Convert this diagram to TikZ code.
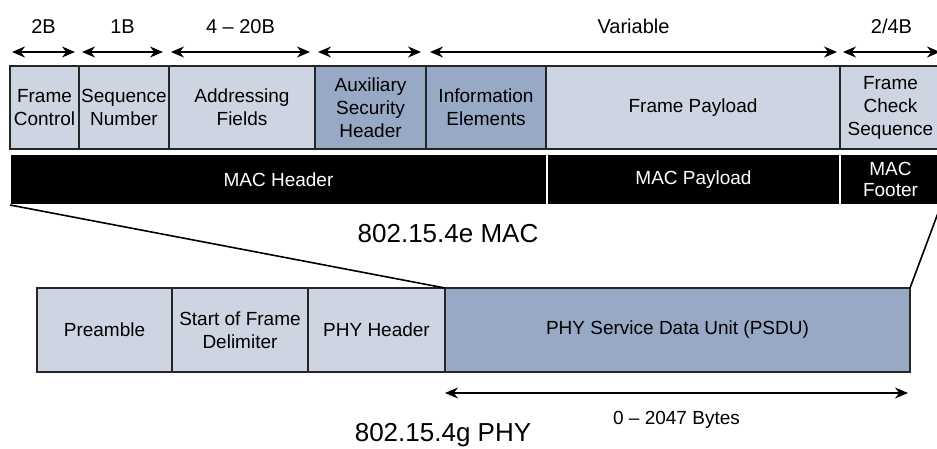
\documentclass[tikz,border=0pt]{standalone}
\usepackage{fontspec}
\setmainfont{Liberation Sans}
\usetikzlibrary{arrows.meta}
\definecolor{fieldlight}{RGB}{205,213,226}
\definecolor{fielddark}{RGB}{151,169,196}

\begin{document}
\begin{tikzpicture}[x=1pt, y=-1pt, >={Stealth[length=13pt, width=11pt]},
  field/.style={draw=black!85, line width=1.2pt, fill=fieldlight, anchor=north west,
    inner sep=0pt, outer sep=0pt, align=center, minimum height=83pt,
    font=\fontsize{19}{23}\selectfont},
  darkfield/.style={field, fill=fielddark},
  macbar/.style={draw=white, line width=1.5pt, fill=black, text=white, anchor=north west,
    inner sep=0pt, outer sep=0pt, align=center, minimum height=51pt,
    font=\fontsize{19}{21}\selectfont},
  sizelabel/.style={font=\fontsize{20}{24}\selectfont, anchor=base},
  layertitle/.style={font=\fontsize{26}{30}\selectfont, anchor=base},
  dimarrow/.style={<->, line width=1.6pt}]
  \clip (0,0) rectangle (937,448);

  % MAC frame fields
  \node[field, minimum width=69pt] (fc) at (10,66) {Frame\\Control};
  \node[field, minimum width=90pt] (sn) at (fc.north east) {Sequence\\Number};
  \node[field, minimum width=146pt] (af) at (sn.north east) {Addressing\\Fields};
  \node[darkfield, minimum width=111pt] (ash) at (af.north east) {Auxiliary\\Security\\Header};
  \node[darkfield, minimum width=120pt] (ie) at (ash.north east) {Information\\Elements};
  \node[field, minimum width=294pt] (fp) at (ie.north east) {Frame Payload};
  \node[field, minimum width=101pt] (fcs) at (fp.north east) {Frame\\Check\\Sequence};

  % header / payload / footer bar
  \node[macbar, minimum width=537pt] (mh) at (10,154) {MAC Header};
  \node[macbar, minimum width=293pt] (mp) at (mh.north east) {MAC Payload};
  \node[macbar, minimum width=101pt] (mf) at (mp.north east) {MAC\\Footer};

  % field sizes
  \draw[dimarrow] ([xshift=2pt, yshift=14pt]fc.north west) -- ([xshift=-4pt, yshift=14pt]fc.north east)
    node[sizelabel, midway, yshift=19pt] (sz1) {2B};
  \draw[dimarrow] ([xshift=3pt, yshift=14pt]sn.north west) -- ([xshift=-6pt, yshift=14pt]sn.north east)
    node[sizelabel, midway, yshift=19pt] (sz2) {1B};
  \draw[dimarrow] ([xshift=2pt, yshift=14pt]af.north west) -- ([xshift=-5pt, yshift=14pt]af.north east)
    node[sizelabel, midway, yshift=19pt] (sz3) {4 -- 20B};
  \draw[dimarrow] ([xshift=3pt, yshift=14pt]ash.north west) -- ([xshift=-5pt, yshift=14pt]ash.north east);
  \draw[dimarrow] ([xshift=4pt, yshift=14pt]ie.north west) -- ([xshift=-3pt, yshift=14pt]fp.north east)
    node[sizelabel, midway, yshift=19pt] (sz4) {Variable};
  \draw[dimarrow] ([xshift=3pt, yshift=14pt]fcs.north west) -- ([xshift=-1pt, yshift=14pt]fcs.north east)
    node[sizelabel, midway, yshift=19pt] (sz5) {2/4B};

  \node[layertitle] (mactitle) at (448,242) {802.15.4e MAC};

  % PHY frame
  \node[field, minimum width=135pt, minimum height=84pt] (pre) at (37,288) {Preamble};
  \node[field, minimum width=136pt, minimum height=84pt] (sfd) at (pre.north east) {Start of Frame\\Delimiter};
  \node[field, minimum width=137pt, minimum height=84pt] (phh) at (sfd.north east) {PHY Header};
  \node[darkfield, minimum width=465pt, minimum height=84pt] (psdu) at (phh.north east) {PHY Service Data Unit (PSDU)};

  % zoom lines
  \draw[line width=1.6pt] (mh.south west) -- (phh.north east);
  \draw[line width=1.6pt] (mf.south east) -- (psdu.north east);

  \draw[dimarrow] ([yshift=-21pt]psdu.south west) -- ([xshift=-2pt, yshift=-21pt]psdu.south east)
    node[sizelabel, midway, yshift=-31pt, font=\fontsize{19}{23}\selectfont] (bytes) {0 -- 2047 Bytes};

  \node[layertitle] (phytitle) at (443,441) {802.15.4g PHY};
\end{tikzpicture}
\end{document}
